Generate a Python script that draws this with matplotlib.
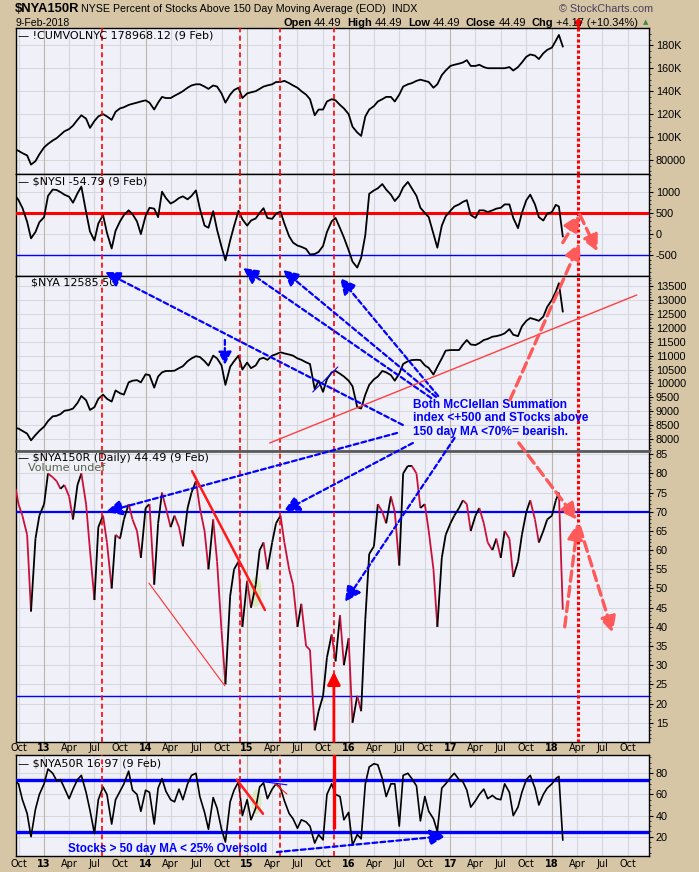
import matplotlib
matplotlib.use('Agg')
import matplotlib.pyplot as plt
import matplotlib.dates as mdates
import numpy as np
import pandas as pd
from matplotlib.collections import LineCollection
from matplotlib.patches import Ellipse
from matplotlib.text import Annotation
from matplotlib.ticker import MultipleLocator

W, H = 699, 872
BG = '#d6c6a6'
PLOT_BG = '#f0f0f8'
GRID = '#d6d6de'
YEARGRID = '#bdb5a6'
SANS = ['Liberation Sans', 'DejaVu Sans']
LEG = ['DejaVu Sans']

# ---------------- data (semi-monthly readings) ----------------
DATES = (['2012-09-21']
         + [d.strftime('%Y-%m-%d') for d in pd.date_range('2012-10-01', '2018-01-15', freq='SMS')]
         + ['2018-01-26', '2018-02-09'])

CUMVOL_K = [89,
    88, 86, 84, 76, 79, 85,
    91, 94, 97, 99, 102, 105, 107, 110, 115, 119, 116, 108,
    114, 118, 120, 118, 115, 122, 125, 126, 128, 129, 130, 131,
    132, 130, 124, 130, 135, 134, 134, 136, 138, 140, 143, 145,
    146, 146, 144, 142, 145, 144, 138, 130, 137, 141, 143, 134,
    138, 139, 140, 142, 144, 145, 146, 148, 148, 149, 147, 145,
    143, 140, 137, 133, 119, 124, 124, 131, 133, 132, 128, 125,
    120, 109, 104, 101, 118, 124, 127, 131, 133, 135, 135, 131,
    137, 144, 146, 147, 149, 150, 149, 148, 143, 146, 154, 158,
    162, 163, 164, 165, 167, 162, 162, 163, 161, 160, 160, 160,
    160, 160, 161, 158, 161, 165, 170, 172, 171, 168, 173, 176,
    178, 184, 189, 178.97]

NYSI = [890,
    800, 620, 290, -100, 50, 280,
    400, 900, 1050, 1040, 990, 930, 880, 740, 960, 1120, 520, 60,
    -150, 250, 450, 30, -340, 80, 300, 450, 560, 470, 300, 0,
    430, 620, 600, 400, 1000, 850, 720, 770, 850, 890, 820, 900,
    1030, 600, 200, 150, 540, 100, -300, -620, -150, 190, 550, 350,
    200, 320, 370, 500, 610, 380, 360, 480, 530, 250, -50, -200,
    -270, -300, -350, -480, -470, -420, -280, 50, 300, 380, 140, -80,
    -380, -650, -790, -560, -20, 950, 1030, 1080, 1180, 1050, 930, 780,
    900, 1100, 1230, 1080, 900, 620, 500, 400, 0, -320, 200, 420,
    550, 650, 700, 760, 800, 450, 380, 560, 560, 520, 560, 600,
    620, 700, 700, 380, 140, 500, 800, 930, 700, 400, 320, 480,
    520, 690, 650, -54.79]

NYA = [8400,
    8380, 8300, 8200, 7960, 8150, 8300,
    8450, 8650, 8820, 8840, 8900, 9020, 9050, 9100, 9300, 9550, 9400, 9050,
    9150, 9450, 9600, 9450, 9350, 9750, 9650, 9600, 10040, 10100, 10120, 10040,
    10330, 10300, 9850, 10250, 10400, 10450, 10450, 10460, 10550, 10620, 10800, 10900,
    10980, 10950, 10800, 10640, 11000, 10900, 10650, 9950, 10600, 10800, 11000, 10500,
    10750, 10550, 10650, 10880, 10920, 10850, 11000, 11050, 11120, 11080, 11040, 11000,
    10900, 10850, 10760, 10700, 9800, 10100, 9700, 10150, 10400, 10450, 10350, 10250,
    10100, 9900, 9150, 9100, 9600, 9950, 10150, 10250, 10450, 10400, 10300, 10100,
    10350, 10700, 10800, 10840, 10850, 10840, 10650, 10560, 10320, 10600, 10900, 11180,
    11200, 11200, 11200, 11400, 11560, 11400, 11380, 11450, 11560, 11600, 11680, 11700,
    11740, 11800, 11950, 11750, 11700, 12050, 12250, 12350, 12300, 12250, 12400, 12750,
    13000, 13300, 13600, 12585.5]

NYA150R = [76,
    72, 69, 64, 44, 63, 69,
    72, 80, 79, 78, 76, 77, 74, 68, 77, 80, 72, 60,
    47, 66, 69, 62, 50, 64, 63, 68, 72, 68, 65, 58,
    71, 72, 51, 67, 75, 71, 66, 69, 66, 61, 71, 75,
    78, 71, 65, 55, 68, 57, 39, 25, 48, 55, 57, 40,
    52, 45, 51, 60, 62, 55, 62, 67, 69, 62, 55, 51,
    40, 46, 35, 34, 13, 18, 22, 32, 38, 31, 43, 30,
    37, 15, 22, 18, 42, 59, 61, 72, 70, 67, 74, 70,
    56, 80, 82, 82, 80, 71, 72, 65, 55, 40, 58, 64,
    67, 69, 71, 73, 72, 65, 69, 71, 67, 62, 60, 63,
    58, 65, 63, 53, 57, 64, 70, 73, 68, 62, 65, 68,
    69, 73, 75, 44.49]

NYA50R = [72,
    70, 55, 42, 20, 46, 60,
    70, 84, 80, 73, 74, 66, 56, 65, 74, 78, 62, 45,
    23, 55, 67, 60, 32, 55, 63, 70, 82, 64, 60, 44,
    64, 62, 32, 66, 75, 63, 55, 53, 65, 55, 70, 78,
    80, 58, 43, 27, 57, 47, 27, 15, 53, 64, 72, 40,
    55, 36, 47, 67, 71, 56, 65, 70, 66, 54, 42, 37,
    28, 36, 34, 30, 14, 22, 17, 60, 70, 60, 58, 36,
    43, 12, 22, 18, 70, 86, 89, 88, 75, 58, 70, 70,
    30, 78, 80, 75, 68, 35, 58, 44, 37, 25, 66, 70,
    76, 80, 74, 72, 64, 48, 54, 60, 65, 56, 59, 56,
    55, 70, 62, 40, 48, 62, 74, 78, 66, 50, 60, 66,
    70, 75, 77, 16.97]

SIGNAL_DATES = ['2013-07-30', '2014-12-06', '2015-04-29', '2015-11-09']
PROJECTION_DATE = '2018-04-04'
QUARTERS = pd.date_range('2012-10-01', '2018-10-01', freq='QS')
XMIN, XMAX = mdates.datestr2num('2012-09-22'), mdates.datestr2num('2018-12-16')

xn = mdates.date2num(pd.to_datetime(DATES))
D = mdates.datestr2num

# ---------------- figure ----------------
fig = plt.figure(figsize=(W / 100, H / 100), dpi=100, facecolor=BG)
L, R = 16, 649


def add_ax(top, bottom):
    return fig.add_axes([L / W, 1 - bottom / H, (R - L) / W, (bottom - top) / H])


ax1 = add_ax(28.3, 174)
ax2 = add_ax(174, 276)
ax3 = add_ax(276, 451)
ax4 = add_ax(451, 741.7)
ax5 = add_ax(755.3, 856)


def style(ax, ylim, majors, labels, minor, xlabels=False, pad=1.0):
    ax.set_facecolor(PLOT_BG)
    ax.set_xlim(XMIN, XMAX)
    ax.set_ylim(*ylim)
    ax.yaxis.tick_right()
    ax.set_yticks(majors, labels=labels)
    ax.yaxis.set_minor_locator(MultipleLocator(minor))
    ax.tick_params(axis='y', which='major', length=3, width=0.8, labelsize=7.8, pad=2)
    ax.tick_params(axis='y', which='minor', length=1.6, width=0.5)
    for lab in ax.get_yticklabels():
        lab.set_family(SANS)
    qlabels = ['%02d' % (d.year % 100) if d.month == 1 else d.strftime('%b') for d in QUARTERS]
    ax.set_xticks(mdates.date2num(QUARTERS), labels=qlabels)
    ax.tick_params(axis='x', which='both', length=0, labelsize=7.0, pad=pad, labelbottom=xlabels)
    for lab, d in zip(ax.get_xticklabels(), QUARTERS):
        lab.set_family(LEG)
        if d.month == 1:
            lab.set_fontweight('bold')
    for y in majors:
        ax.axhline(y, color=GRID, lw=0.7, zorder=0)
    for d in QUARTERS:
        ax.axvline(d, color=YEARGRID if d.month == 1 else GRID, lw=0.8, zorder=0)
    for s in ax.spines.values():
        s.set_color('black')
        s.set_linewidth(1.0)


style(ax1, (67.8, 194.8), [80, 100, 120, 140, 160, 180],
      ['80000', '100K', '120K', '140K', '160K', '180K'], 5)
style(ax2, (-988, 1417), [-500, 0, 500, 1000], ['-500', '0', '500', '1000'], 100)
n3 = list(range(8000, 14000, 500))
style(ax3, (7576, 13859), n3, [str(v) for v in n3], 100)
n4 = list(range(15, 90, 5))
style(ax4, (10.04, 85.86), n4, [str(v) for v in n4], 1, xlabels=True, pad=1.2)
style(ax5, (1.76, 97.0), [20, 40, 60, 80], ['20', '40', '60', '80'], 5, xlabels=True, pad=2.2)
ax4.spines['top'].set_color('#5a5a5a')
ax4.spines['top'].set_linewidth(2)

# ---------------- series ----------------
ax1.plot(xn, CUMVOL_K, color='black', lw=1.3, zorder=4)
ax2.plot(xn, NYSI, color='black', lw=1.3, zorder=4)
ax3.plot(xn, NYA, color='black', lw=1.3, zorder=4)
v4 = np.array(NYA150R, dtype=float)
segs = np.stack([np.column_stack([xn[:-1], v4[:-1]]), np.column_stack([xn[1:], v4[1:]])], axis=1)
cols = ['black' if b >= a else '#c8103a' for a, b in zip(v4[:-1], v4[1:])]
ax4.add_collection(LineCollection(segs, colors=cols, linewidths=1.3, zorder=4))
ax5.plot(xn, NYA50R, color='black', lw=1.2, zorder=4)

# ---------------- horizontal levels ----------------
ax2.axhline(500, color='#ff0000', lw=2.2, zorder=3)
ax2.axhline(-500, color='#0000ff', lw=1.0, zorder=3)
ax4.axhline(70, color='#0000ff', lw=1.6, zorder=3)
ax4.axhline(22, color='#0000ff', lw=1.0, zorder=3)
ax5.axhline(74, color='#0000ff', lw=2.4, zorder=3)
ax5.axhline(24, color='#0000ff', lw=2.4, zorder=3)

# ---------------- vertical signal lines ----------------
for ax in (ax1, ax2, ax3, ax4, ax5):
    for d in SIGNAL_DATES:
        ax.axvline(D(d), color='#ff0000', lw=1.2, ls=(0, (3, 2)), zorder=5)
for ax in (ax1, ax2, ax3, ax4):
    ax.axvline(D(PROJECTION_DATE), color='#ff0000', lw=2.2, ls=(0, (1, 0.8)), zorder=5)
ax1.plot([D(PROJECTION_DATE)] * 2, [194.8, 200.0], color='#ff0000', lw=2.2,
         ls=(0, (1, 0.8)), clip_on=False, zorder=5)
ax1.plot([D(PROJECTION_DATE)], [200.3], marker='D', ms=3.5, color='#ff0000', clip_on=False, zorder=5)


# ---------------- annotations ----------------
def link(ax_a, pa, ax_b, pb, color, lw, ls='-', head=True, ms=16, alpha=1.0):
    style_ = '-|>,head_length=0.6,head_width=0.3' if head else '-'
    ann = Annotation('', xy=(D(pb[0]), pb[1]), xycoords=ax_b.transData,
                     xytext=(D(pa[0]), pa[1]), textcoords=ax_a.transData,
                     arrowprops=dict(arrowstyle=style_, color=color, lw=lw, linestyle=ls,
                                     shrinkA=0, shrinkB=0, mutation_scale=ms, alpha=alpha))
    ann.set_zorder(6)
    fig.add_artist(ann)


BLUE = '#0000ff'
SALMON = '#ff5a5a'
bdash = (0, (2.2, 1.4))
rdash = (0, (3.0, 1.6))

# blue dashed arrows toward NYSI / NYA
link(ax3, ('2016-07-14', 8510), ax3, ('2013-08-08', 14002), BLUE, 1.6, bdash)
link(ax3, ('2016-10-24', 9479), ax3, ('2014-12-17', 14146), BLUE, 1.6, bdash)
link(ax3, ('2016-11-10', 9515), ax3, ('2015-05-10', 14074), BLUE, 1.6, bdash)
link(ax3, ('2016-11-18', 9550), ax3, ('2015-12-01', 13787), BLUE, 1.6, bdash)
# blue dashed arrows toward NYA150R
link(ax3, ('2016-06-23', 8223), ax4, ('2013-08-12', 70.0), BLUE, 1.6, bdash)
link(ax3, ('2016-08-19', 7864), ax4, ('2015-05-13', 70.2), BLUE, 1.6, bdash)
link(ax3, ('2017-01-16', 8043), ax4, ('2015-12-19', 46.5), BLUE, 1.6, bdash)
link(ax3, ('2014-10-13', 11561), ax3, ('2014-10-13', 10664), BLUE, 1.6, bdash, ms=13)
# blue thin solid line in NYA
link(ax3, ('2015-08-25', 9695), ax3, ('2015-11-23', 10592), BLUE, 0.8, '-', head=False)
# NYA50R oversold arrow
link(ax5, ('2015-04-18', 5.5), ax5, ('2016-12-15', 20.7), BLUE, 1.6, bdash)

# red trendline in NYA
link(ax3, ('2015-03-23', 7864), ax3, ('2018-11-02', 13177), '#ff4040', 1.0, '-', head=False)
# red projection arrows
link(ax3, ('2017-08-03', 9407), ax2, ('2018-04-11', -200), SALMON, 2.4, rdash)
link(ax2, ('2018-02-09', -200), ax2, ('2018-04-11', 460), SALMON, 2.4, rdash)
link(ax2, ('2018-04-11', 460), ax2, ('2018-06-14', -413), SALMON, 2.4, rdash)
link(ax3, ('2017-09-04', 7864), ax4, ('2018-04-01', 67.9), SALMON, 2.4, rdash)
link(ax4, ('2018-02-16', 40.0), ax4, ('2018-04-04', 67.1), SALMON, 2.4, rdash)
link(ax4, ('2018-04-11', 66.0), ax4, ('2018-08-08', 38.4), SALMON, 2.4, rdash)

# NYA150R trend lines and marks
link(ax4, ('2014-06-17', 80.6), ax4, ('2015-03-06', 44.4), '#ff1a1a', 1.8, '-', head=False)
link(ax4, ('2014-01-13', 51.4), ax4, ('2014-10-13', 24.6), '#ff3030', 0.8, '-', head=False)
ax4.add_patch(Ellipse((D('2015-02-01'), 49.1), 43, 7.8, facecolor='#cfe898', alpha=0.6,
                      edgecolor='none', zorder=3))
link(ax4, ('2015-11-09', 10.04), ax4, ('2015-11-09', 28.3), '#ff0000', 2.0, '-', ms=13)

# NYA50R marks
ax5.add_patch(Ellipse((D('2015-02-04'), 53.0), 36, 23.6, facecolor='#cfe898', alpha=0.6,
                      edgecolor='none', zorder=3))
link(ax5, ('2014-11-25', 73.9), ax5, ('2015-02-27', 41.7), '#ff1a1a', 1.8, '-', head=False)
link(ax5, ('2015-02-04', 72.9), ax5, ('2015-05-24', 69.1), BLUE, 0.8, '-', head=False)
link(ax5, ('2015-04-11', 70.2), ax5, ('2015-05-24', 60.4), '#ff1a1a', 0.8, '-', head=False)
ax5.plot([D('2015-11-09')] * 2, [29, 97.0], color='#ff0000', lw=2.4, zorder=5)

# annotation texts
ax3.text(D('2016-08-19'), 9443,
         'Both McClellan Summation\nindex <+500 and STocks above\n150 day MA <70%= bearish.',
         color=BLUE, fontsize=8.6, fontweight='bold', family=SANS, va='top', ha='left',
         linespacing=1.14, zorder=7)
ax5.text(D('2013-03-28'), 8.4, 'Stocks > 50 day MA < 25% Oversold', color=BLUE,
         fontsize=8.4, fontweight='bold', family=SANS, va='center', ha='left', zorder=7)


# ---------------- header and legends ----------------
def ftext(x, y, s, **kw):
    return fig.text(x / W, 1 - y / H, s, **kw)


ftext(15, 9, '$NYA150R', fontsize=9.4, fontweight='bold', family=SANS, va='center')
ftext(81, 9.5, 'NYSE Percent of Stocks Above 150 Day Moving Average (EOD)  INDX',
      fontsize=7.7, family=SANS, va='center')
ftext(15, 22.5, '9-Feb-2018', fontsize=7.5, family=SANS, va='center')
ftext(559, 9.5, '\u00a9 StockCharts.com', fontsize=7.8, family=SANS, va='center', color='#4b3d5c')

renderer = fig.canvas.get_renderer()
x = 283
for s, bold in [('Open', True), ('44.49', False), ('High', True), ('44.49', False),
                ('Low', True), ('44.49', False), ('Close', True), ('44.49', False),
                ('Chg', True), ('+4.17 (+10.34%)', False)]:
    t = ftext(x, 22.5, s, fontsize=7.9, fontweight='bold' if bold else 'normal',
              family=SANS, va='center', ha='left')
    x += t.get_window_extent(renderer).width + (2.5 if bold else 6)
ftext(646, 22, '\u25b2', fontsize=5, color='#3c8c3c', family=LEG, va='center', ha='center')

LFS = 8.0
ftext(18, 35.5, '\u2014 !CUMVOLNYC 178968.12 (9 Feb)', fontsize=LFS, family=LEG, va='center')
ftext(18, 181.5, '\u2014 $NYSI -54.79 (9 Feb)', fontsize=LFS, family=LEG, va='center')
ftext(31, 282.5, '$NYA 12585.50', fontsize=LFS, family=LEG, va='center')
ftext(18, 457.5, '\u2014 $NYA150R (Daily) 44.49 (9 Feb)', fontsize=LFS, family=LEG, va='center')
ftext(28, 468, 'Volume undef', fontsize=LFS, family=LEG, va='center', color='#55604a')
ftext(18, 763, '\u2014 $NYA50R 16.97 (9 Feb)', fontsize=LFS, family=LEG, va='center')

fig.savefig('out.png', dpi=100, facecolor=BG)
